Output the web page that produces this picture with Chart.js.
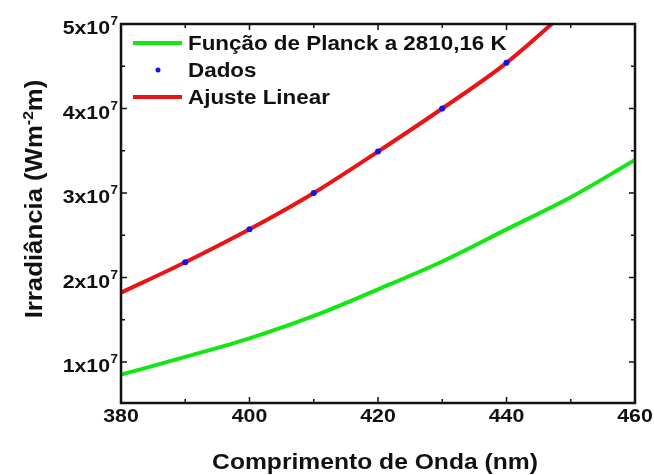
<!DOCTYPE html>
<html>
<head>
<meta charset="utf-8">
<script src="https://cdn.jsdelivr.net/npm/chart.js@4/dist/chart.umd.min.js"></script>
<style>
  body { margin: 0; background: #fff; }
</style>
</head>
<body>
<canvas id="myChart" width="654" height="475"></canvas>
<script>
// valores
const comprimentos = [380, 390, 400, 410, 420, 430, 440, 450, 460]
const planck = [0.85e7, 1.06e7, 1.28e7, 1.545e7, 1.86e7, 2.19e7, 2.57e7, 2.95e7, 3.39e7]

const dadosX = [390, 400, 410, 420, 430, 440]
const dadosY = [2.18e7, 2.57e7, 3.0e7, 3.49e7, 4.0e7, 4.54e7]

const ajusteX = [380, 390, 400, 410, 420, 430, 440, 450]
const ajusteY = [1.82e7, 2.18e7, 2.57e7, 3.0e7, 3.49e7, 4.0e7, 4.54e7, 5.2e7]

const xTicks = [380, 400, 420, 440, 460]
const yTicks = [1e7, 2e7, 3e7, 4e7, 5e7]
const yLabels = ['1x10', '2x10', '3x10', '4x10', '5x10']

const legendas = ['Função de Planck a 2810,16 K', 'Dados', 'Ajuste Linear']

const verde = 'rgb(20,230,20)'
const vermelho = 'rgb(232,20,24)'
const azul = 'rgb(20,20,230)'

const FONTE = 'Liberation Sans, Arial, sans-serif'
const ESTICA = 1.12

function pts(xs, ys) {
  return xs.map((x, i) => ({ x: x, y: ys[i] }))
}

// texto um pouco esticado na horizontal, como no original
function texto(ctx, str, x, y, size, align, base) {
  ctx.save()
  ctx.font = 'bold ' + size + 'px ' + FONTE
  ctx.textBaseline = base || 'alphabetic'
  const w = ctx.measureText(str).width * ESTICA
  let x0 = x
  if (align === 'center') x0 = x - w / 2
  if (align === 'right') x0 = x - w
  ctx.translate(x0, y)
  ctx.scale(ESTICA, 1)
  ctx.textAlign = 'left'
  ctx.fillStyle = '#111'
  ctx.fillText(str, 0, 0)
  ctx.restore()
  return w
}

function largura(ctx, str, size) {
  ctx.save()
  ctx.font = 'bold ' + size + 'px ' + FONTE
  const w = ctx.measureText(str).width * ESTICA
  ctx.restore()
  return w
}

const eixos = {
  id: 'eixos',
  afterDraw(chart) {
    const ctx = chart.ctx
    const a = chart.chartArea
    const sx = chart.scales.x
    const sy = chart.scales.y

    // moldura
    ctx.save()
    ctx.strokeStyle = '#111'
    ctx.lineWidth = 2.5
    ctx.strokeRect(a.left, a.top, a.right - a.left, a.bottom - a.top)

    // marcas para dentro
    ctx.lineWidth = 1.5
    ctx.beginPath()
    for (let v = 380; v <= 460; v += 10) {
      const px = sx.getPixelForValue(v)
      const len = v % 20 === 0 ? 6 : 4
      ctx.moveTo(px, a.bottom); ctx.lineTo(px, a.bottom - len)
      ctx.moveTo(px, a.top); ctx.lineTo(px, a.top + len)
    }
    for (let v = 1e7; v <= 5e7; v += 0.5e7) {
      const py = sy.getPixelForValue(v)
      const len = v % 1e7 === 0 ? 6 : 4
      ctx.moveTo(a.left, py); ctx.lineTo(a.left + len, py)
      ctx.moveTo(a.right, py); ctx.lineTo(a.right - len, py)
    }
    ctx.stroke()
    ctx.restore()

    // rótulos do eixo x
    xTicks.forEach(v => {
      texto(ctx, String(v), sx.getPixelForValue(v), a.bottom + 14, 19, 'center', 'middle')
    })

    // rótulos do eixo y com expoente
    yTicks.forEach((v, i) => {
      const py = sy.getPixelForValue(v)
      const wSup = largura(ctx, '7', 12)
      const xr = a.left - 3
      texto(ctx, '7', xr - wSup, py + 1, 12, 'left')
      texto(ctx, yLabels[i], xr - wSup - 0.5, py + 10, 19, 'right')
    })

    // título x
    texto(ctx, 'Comprimento de Onda (nm)', (a.left + a.right) / 2 - 3, 469, 22, 'center')

    // título y (girado)
    ctx.save()
    ctx.translate(42, 199)
    ctx.rotate(-Math.PI / 2)
    const p1 = 'Irradiância (Wm'
    const p2 = '-2'
    const p3 = 'm)'
    const w1 = largura(ctx, p1, 23)
    const w2 = largura(ctx, p2, 14)
    const w3 = largura(ctx, p3, 23)
    let x0 = -(w1 + w2 + w3) / 2
    texto(ctx, p1, x0, 0, 23, 'left'); x0 += w1
    texto(ctx, p2, x0, -9, 14, 'left'); x0 += w2
    texto(ctx, p3, x0, 0, 23, 'left')
    ctx.restore()

    // legenda
    const ys = [43, 70, 97]
    ctx.save()
    ctx.lineWidth = 4
    ctx.strokeStyle = verde
    ctx.beginPath(); ctx.moveTo(133, ys[0]); ctx.lineTo(182, ys[0]); ctx.stroke()
    ctx.strokeStyle = vermelho
    ctx.beginPath(); ctx.moveTo(133, ys[2]); ctx.lineTo(182, ys[2]); ctx.stroke()
    ctx.fillStyle = azul
    ctx.beginPath(); ctx.arc(158, ys[1], 2.5, 0, Math.PI * 2); ctx.fill()
    ctx.restore()
    legendas.forEach((t, i) => texto(ctx, t, 188, ys[i] + 7, 20, 'left'))
  }
}

const config = {
  type: 'line',
  data: {
    datasets: [
      {
        label: legendas[0],
        data: pts(comprimentos, planck),
        borderColor: verde,
        borderWidth: 4,
        pointRadius: 0,
        cubicInterpolationMode: 'monotone',
        clip: 0,
        order: 2
      },
      {
        label: legendas[2],
        data: pts(ajusteX, ajusteY),
        borderColor: vermelho,
        borderWidth: 4,
        pointRadius: 0,
        cubicInterpolationMode: 'monotone',
        clip: 0,
        order: 1
      },
      {
        label: legendas[1],
        data: pts(dadosX, dadosY),
        showLine: false,
        pointRadius: 3,
        pointBorderWidth: 0,
        pointBackgroundColor: azul,
        borderColor: azul,
        order: 0
      }
    ]
  },
  options: {
    responsive: false,
    animation: false,
    events: [],
    layout: { padding: { top: 24, right: 19, left: 0, bottom: 0 } },
    plugins: {
      legend: { display: false },
      tooltip: { enabled: false }
    },
    scales: {
      x: {
        type: 'linear',
        min: 380,
        max: 460,
        ticks: { display: false },
        grid: { display: false },
        border: { display: false },
        afterFit: s => { s.height = 72 }
      },
      y: {
        type: 'linear',
        min: 0.515e7,
        max: 5e7,
        ticks: { display: false },
        grid: { display: false },
        border: { display: false },
        afterFit: s => { s.width = 121 }
      }
    }
  },
  plugins: [eixos]
}

let myChart = new Chart(document.getElementById('myChart'), config)
</script>
</body>
</html>
